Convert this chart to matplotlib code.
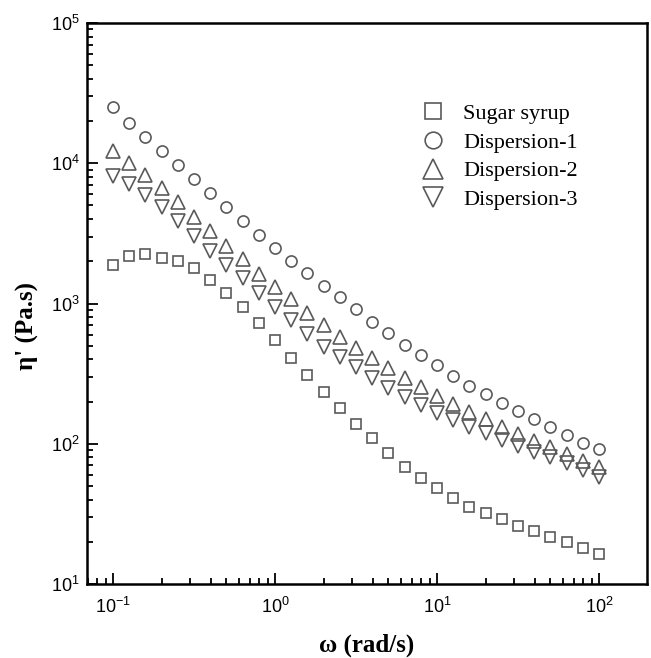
import numpy as np
from matplotlib import pyplot as plt

# frequency (rad/s), 10 points per decade
omega = [0.1, 0.126, 0.158, 0.2, 0.251, 0.316, 0.398, 0.501, 0.631, 0.794,
         1.0, 1.26, 1.58, 2.0, 2.51, 3.16, 3.98, 5.01, 6.31, 7.94,
         10.0, 12.6, 15.8, 20.0, 25.1, 31.6, 39.8, 50.1, 63.1, 79.4, 100.0]

sugar = [1880, 2190, 2240, 2120, 2010, 1780, 1470, 1190, 950, 726,
         550, 407, 309, 235, 179, 138, 109, 85.5, 68.6, 56.7,
         48.1, 41.2, 35.6, 32.2, 28.9, 26.0, 23.9, 21.7, 20.0, 18.0, 16.3]

disp1 = [25300, 19270, 15460, 12230, 9720, 7690, 6110, 4850, 3870, 3080,
         2500, 2020, 1640, 1333, 1119, 909, 741, 613, 506, 429,
         364, 304, 259, 226, 196, 172, 149, 131, 115, 102, 91.3]

disp2 = [12300, 10000, 8250, 6630, 5270, 4160, 3300, 2580, 2065, 1623,
         1318, 1072, 860, 703, 580, 480, 407, 345, 293, 255,
         219, 192, 169, 149, 132, 117, 105, 94.4, 84.5, 75.7, 68.6]

disp3 = [8110, 7080, 5940, 4850, 3890, 3043, 2380, 1883, 1528, 1194,
         949, 763, 606, 492, 418, 354, 293, 248, 216, 189,
         166, 148, 132, 119, 106, 96.4, 87.8, 80.0, 72.5, 65.0, 58.2]

labels = ["Sugar syrup", "Dispersion-1", "Dispersion-2", "Dispersion-3"]
markers = ["s", "o", "^", "v"]
sizes = [7.5, 8, 9.5, 9.5]

plt.rcParams['font.family'] = 'Liberation Sans'
plt.rcParams['mathtext.fontset'] = 'custom'
plt.rcParams['mathtext.rm'] = 'Liberation Sans'

fig = plt.figure(figsize=(6.51, 6.58), dpi=100)
ax = fig.add_axes([0.1336, 0.1125, 0.8603, 0.8525])

for y, lab, m, s in zip([sugar, disp1, disp2, disp3], labels, markers, sizes):
    ax.plot(omega, y, linestyle="none", marker=m, markersize=s,
            markerfacecolor="none", markeredgecolor="#5a5a5a",
            markeredgewidth=1.2, label=lab)

ax.set_xscale("log")
ax.set_yscale("log")
ax.set_xlim(0.069, 198)
ax.set_ylim(10, 1e5)

for sp in ax.spines.values():
    sp.set_linewidth(1.8)

ax.tick_params(which="both", direction="in", top=False, right=False,
               labelsize=13, width=1.3)
ax.tick_params(which="major", length=8)
ax.tick_params(which="minor", length=4.5)
ax.tick_params(axis="x", pad=9)
ax.tick_params(axis="y", pad=5)

ax.set_xlabel(r"ω (rad/s)", family="Liberation Serif", fontweight="bold",
              fontsize=18)
ax.set_ylabel(r"η' (Pa.s)", family="Liberation Serif", fontweight="bold",
              fontsize=18)
ax.yaxis.set_label_coords(-0.085, 0.46)
ax.xaxis.set_label_coords(0.5, -0.088)

ax.legend(loc="upper left", bbox_to_anchor=(0.575, 0.876), frameon=False,
          prop={"family": "Liberation Serif", "size": 16},
          markerscale=1.5, handlelength=1.2, handletextpad=0.75,
          labelspacing=0.36, borderpad=0)

fig.savefig("out.png", dpi=100)
